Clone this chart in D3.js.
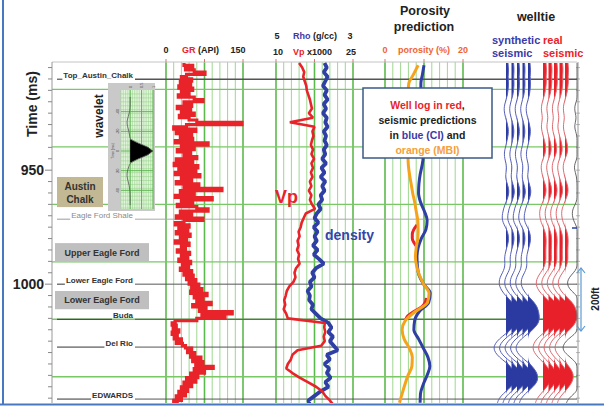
<!DOCTYPE html>
<html>
<head>
<meta charset="utf-8">
<script src="https://cdn.jsdelivr.net/npm/d3@7"></script>
<style>
body{margin:0;background:#fff}
svg{display:block;font-family:"Liberation Sans",Arial,sans-serif}
</style>
</head>
<body>
<svg id="chart" width="604" height="409"></svg>
<script>
"use strict";

// ---- data ----
const timeLabels = [950, 1000];
const timeMinor = [905,910,915,920,925,930,935,940,945,950,955,960,965,970,975,980,985,990,995,1000,1005,1010,1015,1020,1025,1030,1035,1040,1045,1050];
const greenTimes = [914.6, 939.8, 965, 990.2, 1015.4, 1040.6];
const topNames = ["Top_Austin_Chalk", "Eagle Ford Shale", "Lower Eagle Ford", "Buda", "Del Rio", "EDWARDS"];
const topTimes = [910.1, 971.5, 1000, 1015.4, 1027.6, 1050.4];
const zoneNames = [["Austin", "Chalk"], ["Upper Eagle Ford"], ["Lower Eagle Ford"]];
const zoneTimes = [[953, 966.2], [982, 990.3], [1003, 1011]];

const grGrid = [0,15,30,45,60,75,90,105,120,135,150];
const vpGrid = [10,11.5,13,14.5,16,17.5,19,20.5,22,23.5,25];
const porGrid = [0,2,4,6,8,10,12,14,16,18,20];

// GR (API), 1 ms from 903
const grStart = 903;
const grValues = [35,52,38,55,76,40,30,50,28,48,
  25,52,30,45,24,55,72,35,50,22,
  48,30,55,26,45,60,148,40,15,58,
  20,50,28,52,18,82,30,55,22,48,
  35,60,20,52,16,62,25,58,18,66,
  30,50,20,64,35,109,28,55,18,90,
  30,52,22,60,82,28,50,20,72,35,
  18,45,25,42,20,47,28,40,18,45,
  30,38,22,46,30,42,25,48,32,44,
  28,50,35,53,40,58,45,64,50,70,
  48,80,55,72,60,88,52,78,65,129,
  70,115,60,18,12,20,14,25,12,22,
  16,30,20,32,38,50,42,56,48,68,
  52,72,58,92,55,75,48,62,40,58,
  35,50,30,42,25,38,20,30,15,25];

// Vp (x1000) and Rho (g/cc), 2 ms from 903
const logStart = 903;
const vpValues = [14.5,15.1,15.5,15.3,15.6,15.9,16.0,16.3,16.6,16.8,
  17.0,16.4,17.2,12.7,17.5,17.1,17.3,17.0,16.8,17.2,
  16.9,17.4,16.9,17.2,16.8,17.1,16.6,16.9,16.4,16.9,
  16.6,17.0,17.6,15.8,15.4,15.0,14.8,14.4,14.6,14.2,
  14.4,14.1,14.5,14.3,14.6,13.9,13.6,13.8,13.4,12.6,
  12.1,11.9,11.6,11.8,11.5,12.0,12.3,19.5,19.4,19.6,
  19.3,19.5,18.8,14.2,13.2,12.9,12.3,12.0,13.2,14.6,
  16.2,17.8,19.0,19.6,20.5,21.2];
const rhoValues = [2.63,2.66,2.62,2.67,2.64,2.61,2.66,2.63,2.67,2.62,
  2.65,2.61,2.66,2.64,2.67,2.62,2.65,2.63,2.66,2.62,
  2.64,2.60,2.65,2.59,2.63,2.58,2.64,2.60,2.63,2.58,
  2.60,2.55,2.58,2.53,2.50,2.55,2.49,2.54,2.50,2.53,
  2.48,2.54,2.49,2.56,2.62,2.52,2.47,2.50,2.44,2.46,
  2.41,2.44,2.43,2.48,2.46,2.52,2.58,2.68,2.72,2.68,
  2.74,2.70,2.75,2.80,2.66,2.70,2.63,2.69,2.66,2.71,
  2.64,2.68,2.58,2.50,2.42,2.44];

// porosity (%), 4 ms from 904
const porStart = 904;
const porCI = [10.0,9.6,9.2,9.2,9.3,9.4,9.5,9.6,9.6,9.7,
  9.8,9.5,9.0,8.7,8.6,9.1,10.1,10.8,10.5,9.3,
  8.5,8.2,8.3,8.7,9.9,11.6,11.2,8.8,7.6,7.4,
  8.6,9.8,11.0,11.5,10.8,9.8,9.1,9.0];
const porMBI = [8.5,7.3,6.1,5.9,5.8,5.8,5.9,6.0,6.0,6.0,
  5.9,6.0,6.3,6.7,7.1,7.6,8.0,8.4,8.5,8.4,
  8.0,7.8,8.1,8.8,9.9,11.3,10.9,7.8,5.2,4.4,
  4.9,6.2,7.0,6.9,5.9,5.1,4.4,3.7];
const porLogTimes = [974,976,978,980,982,984,986,1006,1008,1010,1012,1014,1016];
const porLogValues = [8.2,7.4,7.0,7.0,7.5,8.3,null,10.6,10.3,9.4,7.4,5.8,5.2];

// welltie traces, 2 ms from 903
const seisStart = 903;
const synthAmp = [0.2,0.25,0.25,0.2,0.25,0.25,0.2,0.15,0.0,-0.12,
  -0.2,-0.15,-0.05,0.1,0.2,0.25,0.2,0.1,0.0,-0.12,
  -0.18,-0.12,0.0,0.05,0.0,-0.05,0.05,0.2,0.3,0.25,
  0.1,-0.1,-0.25,-0.35,-0.4,-0.3,-0.05,0.15,0.25,0.25,
  0.15,0.0,-0.1,-0.15,-0.1,-0.15,-0.35,-0.6,-0.7,-0.65,
  -0.4,-0.05,0.4,0.8,1.0,1.1,1.15,1.05,0.7,0.2,
  -0.4,-0.9,-1.2,-1.2,-0.9,-0.4,0.2,0.6,0.9,1.0,
  0.9,0.5,0.0,-0.5,-0.8,-0.9];
const realAmp = [0.3,0.35,0.35,0.3,0.35,0.3,0.25,0.15,0.0,-0.12,
  -0.18,-0.12,-0.05,-0.12,-0.18,-0.1,0.0,0.15,0.25,0.28,
  0.2,0.0,-0.15,-0.2,-0.12,-0.03,0.12,0.28,0.32,0.25,
  0.05,-0.12,-0.3,-0.35,-0.3,-0.18,0.03,0.2,0.3,0.32,
  0.3,0.28,0.28,0.3,0.22,0.05,-0.25,-0.55,-0.7,-0.65,
  -0.4,0.0,0.5,0.9,1.1,1.2,1.2,1.05,0.7,0.2,
  -0.4,-0.8,-1.0,-1.0,-0.7,-0.3,0.2,0.55,0.8,0.85,
  0.7,0.4,0.0,-0.4,-0.7,-0.8];

// wavelet inset
const wavTimes = [-55,-45,-40,-35,-30,-25,-20,-15,-12,-8,-4,0,4,8,12,16,20,25,30,35,40,45,55];
const wavAmp = [0,0,-0.02,-0.08,-0.15,-0.12,-0.05,-0.02,0,0.35,0.78,1,0.78,0.35,0,-0.06,-0.12,-0.15,-0.1,-0.04,-0.01,0,0];
const wavAmpTicks = ["0", "0.5", "1"];
const wavTimeTicks = [-40, -20, 0, 20, 40];

// ---- drawing ----
const svg = d3.select("#chart");
const RED = "#e8232a", BLUE = "#2f3fa3", ORANGE = "#f6a31c", POR = "#ef6430";

const y = d3.scaleLinear().domain([903, 1053]).range([63, 405]);
const xGR = d3.scaleLinear().domain([0, 150]).range([166, 243]);
const xVp = d3.scaleLinear().domain([10, 25]).range([276, 353]);
const xRho = d3.scaleLinear().domain([2, 3]).range([276, 353]);
const xPor = d3.scaleLinear().domain([0, 20]).range([385, 463]);
const xAmp = d3.scaleLinear().domain([0, 1]).range([0, 10]);

const series = (start, step, vals) => vals.map((v, i) => ({t: start + i * step, v: v}));

svg.append("rect").attr("width", 604).attr("height", 409).attr("fill", "#fff");

svg.append("clipPath").attr("id", "plot")
  .append("rect").attr("x", 0).attr("y", 62).attr("width", 604).attr("height", 341);

const grid = svg.append("g");
[[xGR, grGrid], [xVp, vpGrid], [xPor, porGrid]].forEach(([sc, ticks]) => {
  grid.selectAll(null).data(ticks).enter().append("line")
    .attr("x1", d => sc(d)).attr("x2", d => sc(d))
    .attr("y1", 62).attr("y2", 403)
    .attr("stroke", (d, i) => (i % 5 == 0) ? "#5cb94d" : "#9dd88f")
    .attr("stroke-width", (d, i) => (i % 5 == 0) ? 1.6 : 1);
});
grid.selectAll(null).data(greenTimes).enter().append("line")
  .attr("x1", 52).attr("x2", 577)
  .attr("y1", d => y(d)).attr("y2", d => y(d))
  .attr("stroke", "#79c866").attr("stroke-width", 1.3);

// top axis line with red ticks
svg.append("line").attr("x1", 52).attr("x2", 577).attr("y1", 62).attr("y2", 62)
  .attr("stroke", "#c4c4c4").attr("stroke-width", 1);
[xGR, xVp, xPor].forEach(sc => {
  const d0 = sc.domain();
  svg.selectAll(null).data([d0[0], (d0[0] + d0[1]) / 2, d0[1]]).enter().append("line")
    .attr("x1", d => sc(d)).attr("x2", d => sc(d)).attr("y1", 59).attr("y2", 62)
    .attr("stroke", "#e07070").attr("stroke-width", 1);
});

// left time axis
svg.append("line").attr("x1", 52).attr("x2", 52).attr("y1", 62).attr("y2", 403)
  .attr("stroke", "#999");
svg.selectAll(null).data(timeMinor).enter().append("line")
  .attr("x1", d => timeLabels.includes(d) ? 45 : 48).attr("x2", 52)
  .attr("y1", d => y(d)).attr("y2", d => y(d))
  .attr("stroke", "#888");
svg.selectAll(null).data(timeLabels).enter().append("text")
  .attr("x", 44).attr("y", d => y(d)).attr("dy", "0.36em")
  .attr("text-anchor", "end").attr("font-size", 14).attr("font-weight", "bold")
  .attr("fill", "#222").text(d => d);
svg.append("text").attr("transform", "translate(37,104) rotate(-90)")
  .attr("text-anchor", "middle").attr("font-size", 14).attr("font-weight", "bold")
  .attr("fill", "#222").text("Time (ms)");

// right axis
svg.append("line").attr("x1", 578).attr("x2", 578).attr("y1", 62).attr("y2", 403)
  .attr("stroke", "#999");
svg.selectAll(null).data(timeMinor).enter().append("line")
  .attr("x1", 576).attr("x2", 580)
  .attr("y1", d => y(d)).attr("y2", d => y(d))
  .attr("stroke", "#999").attr("stroke-width", 0.7);

// formation tops
const tops = svg.append("g");
topNames.forEach((name, i) => {
  const yy = y(topTimes[i]);
  const gray = name == "Eagle Ford Shale";
  const col = gray ? "#9a9a9a" : "#333";
  const txt = tops.append("text").attr("x", 133).attr("y", yy - 1)
    .attr("text-anchor", "end").attr("font-size", 8)
    .attr("font-weight", gray ? "normal" : "bold")
    .attr("fill", gray ? "#8a8a8a" : "#333").text(name);
  const w = txt.node().getComputedTextLength();
  tops.append("line").attr("x1", 57).attr("x2", 132 - w).attr("y1", yy).attr("y2", yy)
    .attr("stroke", col).attr("stroke-width", 1);
  tops.append("line").attr("x1", 135).attr("x2", 577).attr("y1", yy).attr("y2", yy)
    .attr("stroke", gray ? "#a8a8a8" : "#555").attr("stroke-width", i == 0 ? 1.4 : 1);
});

// zone boxes
zoneNames.forEach((lines, i) => {
  const y0 = y(zoneTimes[i][0]), y1 = y(zoneTimes[i][1]);
  const chalk = lines.length == 2;
  const x0 = chalk ? 57 : 55, w = chalk ? 46 : 94;
  svg.append("rect").attr("x", x0).attr("y", y0).attr("width", w).attr("height", y1 - y0)
    .attr("fill", chalk ? "#c2b893" : "#bfbfbf");
  lines.forEach((s, j) => {
    svg.append("text").attr("x", x0 + w / 2)
      .attr("y", chalk ? y0 + 12.5 + j * 13 : (y0 + y1) / 2 + 3.3)
      .attr("text-anchor", "middle").attr("font-size", chalk ? 10 : 9)
      .attr("font-weight", "bold").attr("fill", "#333").text(s);
  });
});

// curves
const curves = svg.append("g").attr("clip-path", "url(#plot)");
const logLine = sc => d3.line().defined(d => d.v != null)
  .x(d => sc(d.v)).y(d => y(d.t));

// GR drawn blocky, as the log is shown in the picture
curves.append("path").datum(series(grStart, 1, grValues))
  .attr("d", logLine(xGR).curve(d3.curveStepBefore)).attr("fill", "none").attr("stroke", RED)
  .attr("stroke-width", 3.2).attr("stroke-linejoin", "miter");
curves.append("path").datum(series(logStart, 2, rhoValues))
  .attr("d", logLine(xRho)).attr("fill", "none").attr("stroke", BLUE)
  .attr("stroke-width", 3.8).attr("stroke-linejoin", "bevel");
curves.append("path").datum(series(logStart, 2, vpValues))
  .attr("d", logLine(xVp)).attr("fill", "none").attr("stroke", RED)
  .attr("stroke-width", 2.6).attr("stroke-linejoin", "bevel");

const porLine = d3.line().defined(d => d.v != null)
  .x(d => xPor(d.v)).y(d => y(d.t)).curve(d3.curveMonotoneY);
curves.append("path").datum(porLogTimes.map((t, i) => ({t: t, v: porLogValues[i]})))
  .attr("d", porLine).attr("fill", "none").attr("stroke", RED).attr("stroke-width", 3);
curves.append("path").datum(series(porStart, 4, porCI))
  .attr("d", porLine).attr("fill", "none").attr("stroke", BLUE).attr("stroke-width", 3);
curves.append("path").datum(series(porStart, 4, porMBI))
  .attr("d", porLine).attr("fill", "none").attr("stroke", ORANGE).attr("stroke-width", 3);

// wiggle traces
function traces(amp, x0, fill, stroke) {
  const data = series(seisStart, 2, amp);
  for (let k = 0; k < 5; k++) {
    const base = x0 + k * 5.5;
    curves.append("path").datum(data)
      .attr("d", d3.area().y(d => y(d.t)).x0(base)
        .x1(d => base + xAmp(Math.max(0, d.v))).curve(d3.curveBasis))
      .attr("fill", fill);
    curves.append("path").datum(data)
      .attr("d", d3.line().y(d => y(d.t)).x(d => base + xAmp(d.v)).curve(d3.curveBasis))
      .attr("fill", "none").attr("stroke", stroke).attr("stroke-width", 1);
  }
}
traces(synthAmp, 506, "#2b3aa0", "#5761b8");
traces(realAmp, 543, "#e8202a", "#dd6a70");
curves.append("path").datum(series(seisStart, 2, realAmp))
  .attr("d", d3.line().y(d => y(d.t)).x(d => 577 + 14 * Math.min(0, d.v)).curve(d3.curveBasis))
  .attr("fill", "none").attr("stroke", "#555").attr("stroke-width", 0.9);

// wavelet inset
const wy = d3.scaleLinear().domain([-60, 60]).range([92, 210]);
const wx = d3.scaleLinear().domain([-0.4, 1]).range([121, 153]);
const inset = svg.append("g");
inset.append("rect").attr("x", 108).attr("y", 83).attr("width", 47).attr("height", 128).attr("fill", "#c9c9c9");
inset.append("rect").attr("x", 121).attr("y", 90).attr("width", 32).attr("height", 119).attr("fill", "#e3f4dc");
inset.selectAll(null).data(d3.range(-0.4, 1.01, 0.1)).enter().append("line")
  .attr("x1", d => wx(d)).attr("x2", d => wx(d)).attr("y1", 90).attr("y2", 209)
  .attr("stroke", "#8fd083").attr("stroke-width", 0.5);
inset.selectAll(null).data(d3.range(-58, 60, 4)).enter().append("line")
  .attr("x1", 121).attr("x2", 153).attr("y1", d => wy(d)).attr("y2", d => wy(d))
  .attr("stroke", "#8fd083").attr("stroke-width", 0.5);
inset.selectAll(null).data([0, 0.5, 1]).enter().append("line")
  .attr("x1", d => wx(d)).attr("x2", d => wx(d)).attr("y1", 90).attr("y2", 209)
  .attr("stroke", "#55b048").attr("stroke-width", 0.9);
inset.selectAll(null).data(wavTimeTicks).enter().append("line")
  .attr("x1", 121).attr("x2", 153).attr("y1", d => wy(d)).attr("y2", d => wy(d))
  .attr("stroke", "#55b048").attr("stroke-width", 0.9);
inset.selectAll(null).data(wavAmpTicks).enter().append("text")
  .attr("transform", (d, i) => "translate(" + (wx([0, 0.5, 1][i]) + 1.5) + ",88) rotate(-90)")
  .attr("font-size", 4).attr("fill", "#444").text(d => d);
inset.selectAll(null).data(wavTimeTicks).enter().append("text")
  .attr("transform", d => "translate(119," + wy(d) + ") rotate(-90)")
  .attr("text-anchor", "middle").attr("font-size", 4).attr("fill", "#444").text(d => d);
inset.append("text").attr("transform", "translate(114,151) rotate(-90)")
  .attr("text-anchor", "middle").attr("font-size", 3.5).attr("fill", "#555").text("Time (ms)");
const wav = wavTimes.map((t, i) => ({t: t, v: wavAmp[i]}));
inset.append("path").datum(wav)
  .attr("d", d3.area().y(d => wy(d.t)).x0(wx(0)).x1(d => wx(Math.max(0, d.v))))
  .attr("fill", "#000");
inset.append("path").datum(wav)
  .attr("d", d3.line().y(d => wy(d.t)).x(d => wx(d.v)).curve(d3.curveBasis))
  .attr("fill", "none").attr("stroke", "#555").attr("stroke-width", 0.8);
svg.append("text").attr("transform", "translate(103,116) rotate(-90)")
  .attr("text-anchor", "middle").attr("font-size", 12).attr("font-weight", "bold")
  .attr("fill", "#222").text("wavelet");

// legend box
svg.append("rect").attr("x", 363).attr("y", 88).attr("width", 129).attr("height", 70)
  .attr("fill", "#fff").attr("stroke", "#3d5a86").attr("stroke-width", 1.5);
const legendLines = [
  [["Well log in red", RED], [",", "#222"]],
  [["seismic predictions", "#222"]],
  [["in ", "#222"], ["blue (CI)", "#3a3aa8"], [" and", "#222"]],
  [["orange (MBI)", "#f5a040"]]
];
legendLines.forEach((parts, i) => {
  const t = svg.append("text").attr("x", 427.5).attr("y", 109 + i * 15)
    .attr("text-anchor", "middle").attr("font-size", 10.5).attr("font-weight", "bold");
  parts.forEach(p => t.append("tspan").attr("fill", p[1]).text(p[0]));
});

// headers
function label(x, yy, s, col, size, anchor) {
  return svg.append("text").attr("x", x).attr("y", yy).attr("text-anchor", anchor || "start")
    .attr("font-size", size).attr("font-weight", "bold").attr("fill", col).text(s);
}
label(166, 53, "0", "#222", 9, "middle");
label(182, 53, "GR", RED, 9);
label(198, 53, "(API)", "#222", 9);
label(238, 53, "150", "#222", 9, "middle");
label(277, 39, "5", "#222", 9, "middle");
label(293, 39, "Rho", "#3a3aa8", 9);
label(313, 39, "(g/cc)", "#222", 9);
label(350, 39, "3", "#222", 9, "middle");
label(278, 55, "10", "#222", 9, "middle");
label(293, 55, "Vp", RED, 9);
label(307, 55, "x1000", "#222", 9);
label(351, 55, "25", "#222", 9, "middle");
label(385, 53, "0", POR, 9, "middle");
label(398, 53, "porosity (%)", POR, 9);
label(463, 53, "20", POR, 9, "middle");
label(425, 15, "Porosity", "#222", 12.5, "middle");
label(424, 31, "prediction", "#222", 12.5, "middle");
label(536, 21, "welltie", "#222", 12.5, "middle");
label(492, 44, "synthetic", "#3a3aa8", 11);
label(492, 57, "seismic", "#3a3aa8", 11);
label(543, 44, "real", RED, 11);
label(543, 57, "seismic", RED, 11);

label(275, 203, "Vp", RED, 18);
label(325, 240, "density", "#3345a8", 14);

// 200 ft scale arrow
svg.append("line").attr("x1", 572).attr("x2", 577).attr("y1", 228).attr("y2", 228)
  .attr("stroke", "#3050b0").attr("stroke-width", 1.6);
svg.append("line").attr("x1", 581).attr("x2", 581).attr("y1", 268).attr("y2", 331)
  .attr("stroke", "#5b9bd5").attr("stroke-width", 1.2);
svg.append("path").attr("d", "M577,273L581,268L585,273M577,326L581,331L585,326")
  .attr("fill", "none").attr("stroke", "#5b9bd5").attr("stroke-width", 1.2);
svg.append("text").attr("transform", "translate(599,299) rotate(-90)")
  .attr("text-anchor", "middle").attr("font-size", 10).attr("font-weight", "bold")
  .attr("fill", "#222").text("200ft");

// frame
svg.append("line").attr("x1", 3).attr("x2", 3).attr("y1", 0).attr("y2", 405)
  .attr("stroke", "#4a78c0").attr("stroke-width", 2);
svg.append("line").attr("x1", 0).attr("x2", 604).attr("y1", 404.5).attr("y2", 404.5)
  .attr("stroke", "#4a78c0").attr("stroke-width", 2);
</script>
</body>
</html>
